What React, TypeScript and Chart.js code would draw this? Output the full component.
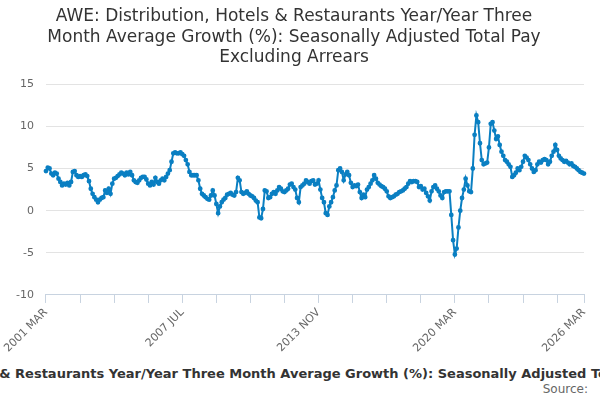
import React, { useEffect, useRef } from "react";
import { Chart, registerables } from "chart.js";
Chart.register(...registerables);

const titleLines = [
  "AWE: Distribution, Hotels & Restaurants Year/Year Three",
  "Month Average Growth (%): Seasonally Adjusted Total Pay",
  "Excluding Arrears",
];
const bottomText =
  "AWE: Distribution, Hotels & Restaurants Year/Year Three Month Average Growth (%): Seasonally Adjusted Total Pay Excluding Arrears";
const monthNames = ["JAN","FEB","MAR","APR","MAY","JUN","JUL","AUG","SEP","OCT","NOV","DEC"];
const startYear = 2001;
const startMonth = 2; // MAR
const shownTicks = [0, 76, 152, 228, 300];
const values = [
  4.7,5.1,5.0,4.4,4.2,4.5,4.4,3.8,3.4,3.0,3.2,3.1,
  3.3,3.0,3.4,4.6,4.7,4.2,4.0,4.1,4.0,4.2,4.3,4.1,
  3.5,2.6,2.0,1.6,1.3,1.0,1.3,1.5,1.6,2.4,2.1,2.6,
  2.0,3.2,3.8,3.9,4.1,4.3,4.5,4.4,4.2,4.5,4.3,4.6,
  4.2,3.6,3.4,3.3,3.6,3.9,4.0,4.0,3.7,3.2,3.0,3.4,
  3.1,3.9,3.4,3.2,3.6,3.8,3.6,4.0,4.4,4.8,5.8,6.8,
  6.9,6.8,6.8,6.9,6.7,6.5,6.0,5.5,4.6,4.2,4.2,4.2,
  4.2,3.6,2.6,2.0,1.8,1.6,1.4,1.3,1.8,2.4,1.8,0.8,
  -0.3,0.5,1.0,1.3,1.5,1.9,2.0,2.1,1.9,1.8,2.2,3.9,
  3.6,2.2,2.0,2.1,2.3,2.0,1.8,1.7,1.5,1.2,1.0,-0.8,
  -0.9,0.2,2.4,2.3,1.5,1.6,2.0,2.2,2.0,2.4,2.8,2.6,
  2.3,2.2,2.4,2.6,3.1,3.2,2.8,2.5,1.5,1.0,2.8,3.0,
  3.2,3.6,3.4,3.2,3.5,3.6,3.1,3.2,3.6,2.5,1.5,1.0,
  -0.3,-0.5,0.5,1.0,1.6,2.4,3.0,4.8,5.0,4.6,3.6,4.3,
  4.6,4.2,3.3,2.8,3.0,2.9,3.1,2.2,1.5,1.9,1.6,2.5,
  2.8,3.2,3.6,4.2,3.8,3.3,3.1,2.9,2.8,2.6,2.3,1.7,
  1.5,1.6,1.7,1.9,2.0,2.2,2.3,2.4,2.6,2.8,3.2,3.5,
  3.4,3.5,3.5,3.4,2.8,2.9,2.5,2.6,2.1,1.7,1.2,2.3,
  2.8,3.0,2.6,2.3,1.8,1.5,2.2,2.3,2.3,2.3,-0.5,-3.5,
  -5.2,-4.5,-2.0,0.0,1.5,2.5,3.8,3.0,2.3,2.2,5.0,9.0,
  11.3,10.5,8.0,6.0,5.5,5.6,5.7,7.5,10.3,10.5,9.5,8.5,
  8.8,7.8,7.0,6.5,6.0,5.8,5.5,5.2,4.0,4.2,4.5,5.0,
  4.8,5.2,5.8,6.5,6.3,6.0,5.5,5.0,4.6,4.8,5.5,5.8,
  5.7,6.0,6.1,6.0,5.5,5.8,6.5,7.0,7.8,7.2,6.5,6.2,
  6.0,5.8,5.9,5.7,5.5,5.6,5.3,5.2,5.0,4.8,4.6,4.5,4.4,
];
const categories = values.map((_, i) => {
  const m = startMonth + i;
  return `${startYear + Math.floor(m / 12)} ${monthNames[m % 12]}`;
});

const FONT = "'DejaVu Sans', Verdana, sans-serif";

export default function App() {
  const ref = useRef<HTMLCanvasElement>(null);
  useEffect(() => {
    const chart = new Chart(ref.current!, {
      type: "line",
      data: {
        labels: categories,
        datasets: [{
          data: values,
          borderColor: "#0a7fc2",
          backgroundColor: "#0a7fc2",
          borderWidth: 2,
          pointRadius: 1.4,
          pointHoverRadius: 2,
          tension: 0,
        }],
      },
      options: {
        animation: false,
        responsive: false,
        layout: { padding: { left: 4, right: 16, top: 0, bottom: 0 } },
        plugins: {
          legend: { display: false },
          tooltip: { enabled: false },
          title: {
            display: true,
            text: titleLines,
            color: "#333",
            font: { family: FONT, size: 17, weight: "normal", lineHeight: 1.22 },
            padding: { top: 6, bottom: 16 },
          },
        },
        scales: {
          x: {
            grid: { display: true, drawOnChartArea: false, drawTicks: true, tickLength: 8, color: "#c8d3e0" },
            border: { color: "#c8d3e0" },
            ticks: {
              autoSkip: false,
              maxRotation: 45,
              minRotation: 45,
              color: "#666",
              font: { family: FONT, size: 11 },
              callback: (_v, i) => {
                if (shownTicks.includes(i)) return categories[i];
                if (i % 19 === 0) return "";
                return null;
              },
            },
          },
          y: {
            min: -10,
            max: 15,
            ticks: { stepSize: 5, color: "#666", font: { family: FONT, size: 11 }, padding: 12 },
            grid: { color: "#e3e3e3", drawTicks: false },
            border: { display: false },
          },
        },
      },
    });
    return () => chart.destroy();
  }, []);
  return (
    <div style={{ position: "absolute", left: 0, top: 0, width: 600, height: 400, background: "#fff", overflow: "hidden" }}>
      <canvas ref={ref} width={600} height={358} style={{ display: "block" }} />
      <div style={{ position: "absolute", left: 0, top: 366, width: 600, display: "flex", justifyContent: "center", overflow: "hidden", whiteSpace: "nowrap" }}>
        <span style={{ flexShrink: 0, fontFamily: FONT, fontSize: 13, fontWeight: "bold", color: "#333" }}>{bottomText}</span>
      </div>
      <div style={{ position: "absolute", right: 12, top: 382, fontFamily: FONT, fontSize: 12, color: "#666" }}>Source:</div>
    </div>
  );
}
